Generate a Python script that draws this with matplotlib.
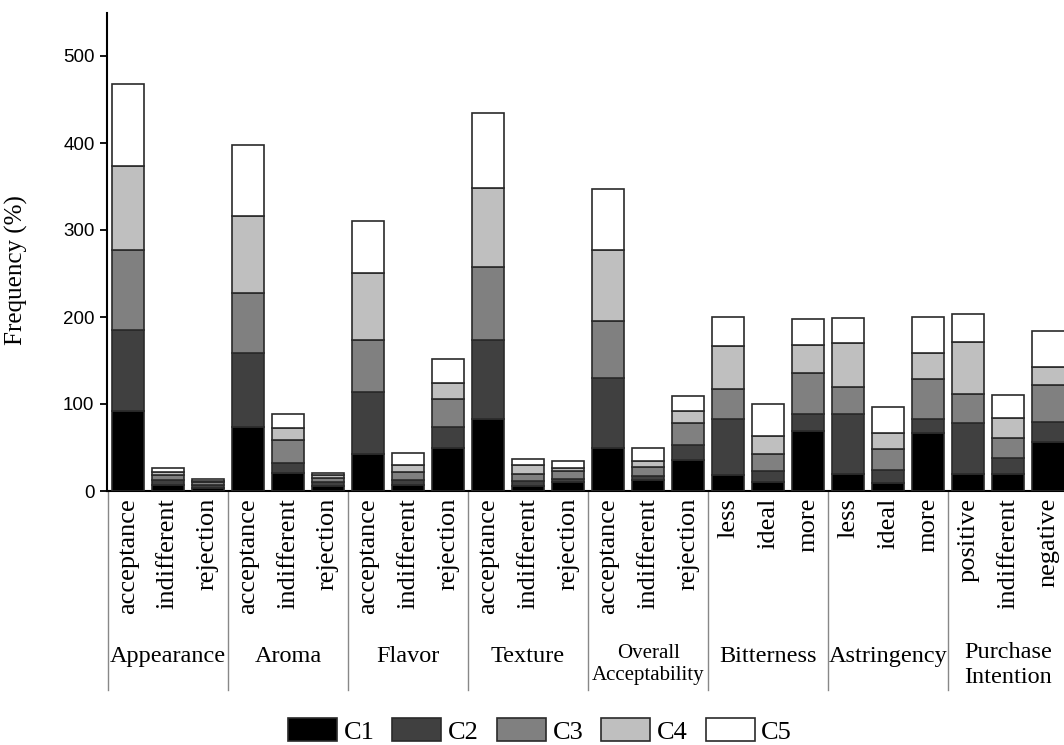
import matplotlib.pyplot as plt
import numpy as np

plt.rcParams['font.family'] = ['Liberation Serif', 'DejaVu Serif']

categories = ["acceptance", "indifferent", "rejection",
              "acceptance", "indifferent", "rejection",
              "acceptance", "indifferent", "rejection",
              "acceptance", "indifferent", "rejection",
              "acceptance", "indifferent", "rejection",
              "less", "ideal", "more",
              "less", "ideal", "more",
              "positive", "indifferent", "negative"]
groups = ["Appearance", "Aroma", "Flavor", "Texture", "Overall\nAcceptability",
          "Bitterness", "Astringency", "Purchase\nIntention"]

c1 = [92, 7, 4, 73, 21, 6, 43, 7, 50, 83, 6, 10, 50, 13, 36, 18, 10, 69, 20, 9, 67, 20, 20, 56]
c2 = [93, 6, 3, 86, 11, 4, 71, 6, 23, 90, 6, 4, 80, 4, 17, 65, 13, 20, 68, 15, 16, 58, 18, 23]
c3 = [92, 5, 3, 69, 27, 5, 59, 9, 33, 85, 8, 9, 65, 11, 25, 34, 19, 47, 31, 24, 46, 34, 23, 43]
c4 = [96, 4, 2, 88, 13, 3, 78, 8, 18, 90, 10, 3, 82, 7, 14, 50, 21, 32, 51, 19, 30, 59, 23, 20]
c5 = [95, 5, 2, 82, 16, 3, 59, 14, 28, 86, 7, 8, 70, 15, 17, 33, 37, 30, 29, 30, 41, 32, 26, 42]
series = [c1, c2, c3, c4, c5]
names = ["C1", "C2", "C3", "C4", "C5"]
colors = ["#000000", "#404040", "#808080", "#bfbfbf", "#ffffff"]

fig = plt.figure(figsize=(10.64, 7.45), dpi=100)
# axes placed in pixels: left 107, bottom (y=0) at 491, top at 12.5
ax = fig.add_axes([107 / 1064, (745 - 491) / 745, 957 / 1064, 478.5 / 745])

x = np.arange(len(categories))
bottom = np.zeros(len(categories))
for vals, name, col in zip(series, names, colors):
    ax.bar(x, vals, 0.8, bottom=bottom, color=col, edgecolor="#2a2a2a",
           linewidth=1.2, label=name, zorder=3)
    bottom += np.array(vals)

ax.set_xlim(-0.52, -0.52 + 957 / 40.03)
ax.set_ylim(0, 550)
ax.set_yticks([0, 100, 200, 300, 400, 500])
ax.tick_params(axis="y", direction="out", length=5, width=1.3, pad=4)
for lab in ax.get_yticklabels():
    lab.set_family("Liberation Sans")
    lab.set_fontsize(13.5)

ax.set_xticks(x)
ax.set_xticklabels(categories, rotation=90, fontsize=19, va="top")
ax.tick_params(axis="x", length=0, pad=5)

ax.spines["top"].set_visible(False)
ax.spines["right"].set_visible(False)
ax.spines["left"].set_linewidth(1.5)
ax.spines["bottom"].set_linewidth(1.5)

ax.set_ylabel("Frequency (%)", fontsize=18)
ax.yaxis.set_label_coords(-0.083, 0.462)

# group separators and group labels under the axis
trans = ax.get_xaxis_transform()
for b in np.arange(-0.5, len(categories), 3):
    ax.plot([b, b], [0, -0.416], transform=trans, color="#888888",
            linewidth=1, clip_on=False)
for i, g in enumerate(groups):
    xc = i * 3 + 1
    size = 15 if g.startswith("Overall") else 17.5
    ax.text(xc, -0.345 if "\n" not in g else -0.363, g, transform=trans,
            ha="center", va="center", fontsize=size, linespacing=1.25)

fig.legend(loc="center", bbox_to_anchor=(540 / 1064, 1 - 731 / 745), ncol=5,
           frameon=False, fontsize=19, handlelength=1.86, handleheight=0.95,
           handletextpad=0.25, columnspacing=0.68, borderpad=0)

plt.savefig("out.png", dpi=100)
